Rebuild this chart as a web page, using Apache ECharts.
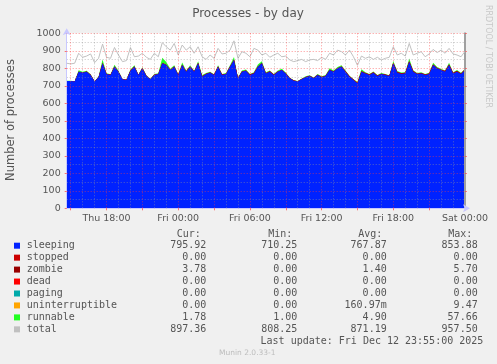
<!DOCTYPE html>
<html><head><meta charset="utf-8">
<script src="https://cdn.jsdelivr.net/npm/echarts@6/dist/echarts.min.js"></script>
<style>html,body{margin:0;padding:0;background:#f0f0f0;}#c{width:497px;height:364px;}</style>
</head><body><div id="c"></div>
<script>
// time axis: hours since Thu 00:00, one sample every 20 minutes
const startHour = 14 + 40 / 60;   // Thu 14:40
const stepHours = 20 / 60;
const endHour = 48;               // Sat 00:00

const sleeping = [727,727,724,781,775,781,762,724,749,829,767,762,809,781,737,733,786,809,762,800,756,737,762,767,829,819,790,809,762,819,781,809,781,829,752,767,775,762,809,762,767,809,848,743,781,786,
762,771,809,829,771,781,762,781,790,771,743,729,724,737,749,756,743,762,749,756,790,781,800,809,781,752,733,714,781,771,762,775,756,767,762,756,829,775,767,771,838,781,767,771,762,767,819,800,790,781,819,771,781,767,790];
const stopped = new Array(101).fill(0);
const zombie = [0,0,0,0,0,1,1,0,0,1,1,1,1,0,0,1,1,1,0,0,1,1,1,1,2,2,1,1,1,2,2,1,1,1,2,2,1,1,1,2,2,2,1,1,1,2,
2,2,1,1,1,2,2,1,1,1,1,1,2,2,2,1,1,1,2,2,2,1,1,2,2,3,3,2,2,2,2,3,3,2,2,2,3,4,5,3,3,3,2,2,2,3,3,2,2,3,3,3,4,3,4];
const dead = new Array(101).fill(0);
const paging = new Array(101).fill(0);
const uninterruptible = [0,0,0,0,0,0,0,0,0,0,0,0,0,0,0,0,0,0,0,0,0,0,0,0,0,0,0,0,0,0,0,0,0,0,0,0,0,0,0,0,0,0,0,0,0,0,
0,0,0,0,0,0,0,0,0,0,0,0,0,0,0,0,0,0,0,0,0,0,0,0,0,0,0,5,0,0,0,0,0,0,0,0,0,0,0,0,0,0,0,0,0,0,0,0,0,0,0,0,0,0,0];
const runnable = [2,2,2,8,5,4,3,2,4,20,4,3,10,5,2,2,6,8,3,6,3,2,4,4,30,15,6,8,4,12,5,8,4,10,8,4,5,3,8,4,4,6,15,3,5,5,
4,5,12,10,5,4,3,5,6,4,3,2,2,3,3,4,3,4,3,4,8,5,6,6,4,3,2,2,12,4,3,4,3,4,3,3,10,5,4,4,15,5,4,4,3,4,10,6,5,4,10,4,5,4,2];
const total = [829,825,829,886,863,870,882,832,857,938,863,857,919,876,838,844,919,866,870,886,863,851,886,866,947,923,904,942,876,933,904,923,886,923,866,851,876,857,914,882,886,904,957,857,895,886,
866,914,904,876,886,863,876,886,866,870,848,838,844,851,838,848,851,844,863,851,886,876,904,895,876,904,866,817,870,857,866,851,863,848,857,863,923,876,886,870,942,876,886,895,866,882,908,890,904,886,914,882,876,866,897];

const seriesNames = ['sleeping','stopped','zombie','dead','paging','uninterruptible','runnable','total'];
const seriesColors = ['#0022ff','#cc0000','#990000','#ff0000','#00aaaa','#ffa500','#22ff22','#c0c0c0'];
const curVals = ['795.92','0.00','3.78','0.00','0.00','0.00','1.78','897.36'];
const minVals = ['710.25','0.00','0.00','0.00','0.00','0.00','1.00','808.25'];
const avgVals = ['767.87','0.00','1.40','0.00','0.00','160.97m','4.90','871.19'];
const maxVals = ['853.88','0.00','5.70','0.00','0.00','9.47','57.66','957.50'];
const colHeaders = ['Cur:','Min:','Avg:','Max:'];
const lastUpdate = 'Last update: Fri Dec 12 23:55:00 2025';

const xLabelHours = [18,24,30,36,42,48];
const xLabelNames = ['Thu 18:00','Fri 00:00','Fri 06:00','Fri 12:00','Fri 18:00','Sat 00:00'];
const majorHours = [15,18,21,24,27,30,33,36,39,42,45,48];
const minorHours = [];
for (let h = 15; h <= 47; h++) if (majorHours.indexOf(h) < 0) minorHours.push(h);

// stacked areas (rrdtool AREA/STACK): cumulative sums, drawn top layer first
const stackVals = [sleeping, stopped, zombie, dead, paging, uninterruptible, runnable];
const cumulative = [];
stackVals.forEach((arr, k) => {
  cumulative.push(arr.map((v, i) => v + (k > 0 ? cumulative[k - 1][i] : 0)));
});
function toXY(arr) { return arr.map((v, i) => [startHour + i * stepHours, v]); }

const series = [];
for (let k = stackVals.length - 1; k >= 0; k--) {
  series.push({
    name: seriesNames[k], type: 'line', data: toXY(cumulative[k]),
    symbol: 'none', lineStyle: { width: 0 }, areaStyle: { color: seriesColors[k], opacity: 1, origin: 'start' },
    color: seriesColors[k], z: 2, silent: true
  });
}
series.push({
  name: 'total', type: 'line', data: toXY(total), symbol: 'none',
  lineStyle: { width: 1, color: seriesColors[7] }, color: seriesColors[7], z: 4, silent: true
});
series.push({
  name: 'vgrid', type: 'line', data: [[startHour, null]], symbol: 'none', z: 3, silent: true,
  markLine: {
    silent: true, symbol: ['none', 'none'], label: { show: false }, animation: false,
    data: minorHours.map(h => ({ xAxis: h, lineStyle: { color: 'rgba(150,150,150,0.55)', type: [1, 2], width: 1 } }))
      .concat(majorHours.filter(h => h < 48).map(h => ({ xAxis: h, lineStyle: { color: 'rgba(255,60,60,0.55)', type: [1, 2], width: 1 } })))
  }
});

const mono = 'DejaVu Sans Mono';
const txtColor = '#555';
const graphics = [];
graphics.push({ type: 'text', x: 248, y: 13.5, style: { text: 'Processes - by day', font: '12px "DejaVu Sans"', fill: txtColor, textAlign: 'center', textVerticalAlign: 'middle' } });
graphics.push({ type: 'text', x: 11, y: 120, rotation: Math.PI / 2, style: { text: 'Number of processes', font: '11.5px "DejaVu Sans"', fill: txtColor, textAlign: 'center', textVerticalAlign: 'middle' } });
graphics.push({ type: 'text', x: 488.5, y: 56.5, rotation: -Math.PI / 2, style: { text: 'RRDTOOL / TOBI OETIKER', font: '8px "DejaVu Sans"', fill: '#c8c8c8', textAlign: 'center', textVerticalAlign: 'middle' } });
const headerX = [176.7, 268.3, 358.3, 448.3];
colHeaders.forEach((h, i) => graphics.push({ type: 'text', x: headerX[i], y: 234, style: { text: h, font: '10px "' + mono + '"', fill: txtColor, textAlign: 'left', textVerticalAlign: 'middle' } }));
const colRight = [206.3, 297.3, 386.7, 477.7];
const cols = [curVals, minVals, avgVals, maxVals];
seriesNames.forEach((n, r) => {
  const y = 245.7 + r * 11.95;
  graphics.push({ type: 'rect', shape: { x: 14, y: y - 3, width: 6, height: 6 }, style: { fill: seriesColors[r] } });
  graphics.push({ type: 'text', x: 26.7, y: y, style: { text: n, font: '10px "' + mono + '"', fill: txtColor, textAlign: 'left', textVerticalAlign: 'middle' } });
  cols.forEach((c, j) => graphics.push({ type: 'text', x: colRight[j], y: y, style: { text: c[r], font: '10px "' + mono + '"', fill: txtColor, textAlign: 'right', textVerticalAlign: 'middle' } }));
});
graphics.push({ type: 'text', x: 483.3, y: 341.7, style: { text: lastUpdate, font: '10px "' + mono + '"', fill: txtColor, textAlign: 'right', textVerticalAlign: 'middle' } });
graphics.push({ type: 'text', x: 219, y: 352.7, style: { text: 'Munin 2.0.33-1', font: '7.5px "DejaVu Sans"', fill: '#bdbdbd', textAlign: 'left', textVerticalAlign: 'middle' } });

const axisColor = '#c8c8ff';
const chart = echarts.init(document.getElementById('c'), null, { renderer: 'canvas' });
chart.setOption({
  animation: false,
  backgroundColor: '#f0f0f0',
  textStyle: { fontFamily: 'DejaVu Sans' },
  grid: { left: 66.7, right: 32, top: 33.3, bottom: 155.7, show: true, backgroundColor: '#ffffff', borderWidth: 0 },
  xAxis: {
    type: 'value', min: startHour, max: endHour, z: 3,
    axisLine: { show: true, lineStyle: { color: axisColor, width: 1 }, symbol: ['none', 'arrow'], symbolSize: [6, 7], symbolOffset: [0, 5] },
    axisTick: { show: true, customValues: majorHours, length: 2, lineStyle: { color: 'rgba(255,60,60,0.7)' } },
    axisLabel: { customValues: xLabelHours, formatter: v => xLabelNames[xLabelHours.indexOf(Math.round(v))] || '', color: txtColor, fontSize: 9.5, margin: 5, fontFamily: 'DejaVu Sans' },
    splitLine: { show: false }
  },
  yAxis: [{
    type: 'value', min: 0, max: 1000, interval: 100, z: 3,
    axisLine: { show: true, lineStyle: { color: axisColor, width: 1 }, symbol: ['none', 'arrow'], symbolSize: [6, 7], symbolOffset: [0, 5] },
    axisTick: { show: true, length: 2, lineStyle: { color: 'rgba(255,60,60,0.7)' } },
    axisLabel: { color: txtColor, fontSize: 9.5, margin: 6, fontFamily: 'DejaVu Sans', formatter: v => String(v) },
    splitLine: { show: true, lineStyle: { color: 'rgba(255,60,60,0.55)', type: [1, 2], width: 1 } },
    minorTick: { show: false, splitNumber: 2 },
    minorSplitLine: { show: true, lineStyle: { color: 'rgba(150,150,150,0.55)', type: [1, 2], width: 1 } }
  }, {
    type: 'value', min: 0, max: 1000, interval: 100, position: 'right', z: 3,
    axisLine: { show: true, lineStyle: { color: '#a0a0a0', width: 2 } },
    axisTick: { show: true, length: 2, lineStyle: { color: 'rgba(255,60,60,0.6)' } },
    axisLabel: { show: false }, splitLine: { show: false }
  }],
  series: series,
  graphic: graphics
});
</script></body></html>
